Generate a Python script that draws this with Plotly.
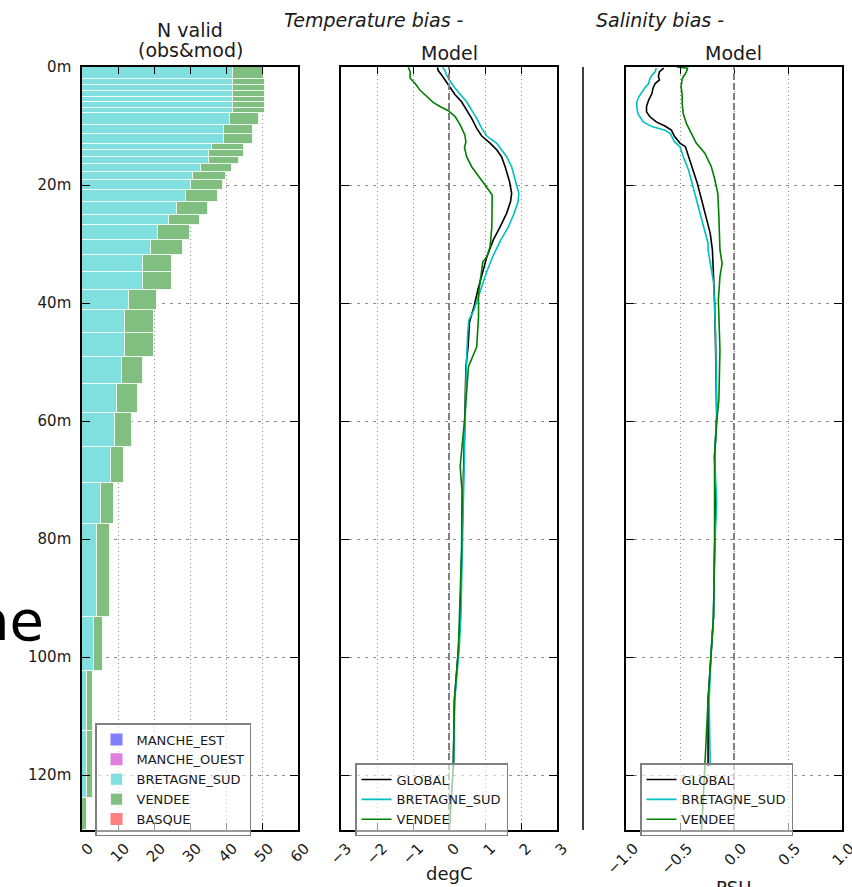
import plotly.graph_objects as go

W, H = 852, 887

# ---------------- data ----------------
depth_ticks = [0, 20, 40, 60, 80, 100, 120]
depth_labels = ["0m", "20m", "40m", "60m", "80m", "100m", "120m"]

n_ticks = [0, 10, 20, 30, 40, 50, 60]
n_labels = ["0", "10", "20", "30", "40", "50", "60"]
t_ticks = [-3, -2, -1, 0, 1, 2, 3]
t_labels = ["\u22123", "\u22122", "\u22121", "0", "1", "2", "3"]
s_ticks = [-1.0, -0.5, 0.0, 0.5, 1.0]
s_labels = ["\u22121.0", "\u22120.5", "0.0", "0.5", "1.0"]

regions = ["MANCHE_EST", "MANCHE_OUEST", "BRETAGNE_SUD", "VENDEE", "BASQUE"]

# depth bins of the N valid histogram (m)
bin_top = [0, 2, 3, 4, 5, 6, 7, 7.8, 9.8, 11.4, 13.0, 14.1, 15.2, 16.4, 17.8, 19.2,
           20.9, 22.9, 25.1, 26.8, 29.3, 31.9, 34.7, 37.8, 41.2, 45.1, 49.2, 53.7,
           58.6, 64.4, 70.5, 77.4, 93.2, 102.3, 112.5, 123.8]
bin_bot = [2, 3, 4, 5, 6, 7, 7.8, 9.8, 11.4, 13.0, 14.1, 15.2, 16.4, 17.8, 19.2, 20.9,
           22.9, 25.1, 26.8, 29.3, 31.9, 34.7, 37.8, 41.2, 45.1, 49.2, 53.7, 58.6,
           64.4, 70.5, 77.4, 93.2, 102.3, 112.5, 123.8, 129.3]
n_bretagne_sud = [41.9, 42, 42, 42, 42, 42, 42, 41.1, 39.4, 39.4, 36.0, 35.3, 35.3, 33.0,
                  30.8, 30.2, 28.9, 26.3, 24.2, 21.1, 19.1, 17.0, 17.0, 13.1, 12.0, 12.0,
                  11.1, 9.7, 9.2, 8.0, 5.2, 4.1, 3.2, 1.4, 1.4, 0.0]
n_vendee = [8.6, 8.8, 8.8, 8.8, 8.8, 8.8, 8.8, 8.2, 8.2, 8.2, 9.0, 9.7, 8.4, 8.6,
            9.2, 8.9, 8.9, 8.7, 8.6, 8.9, 8.9, 8.0, 8.0, 7.7, 8.0, 8.0,
            5.8, 5.9, 4.6, 3.8, 3.7, 3.7, 2.7, 1.6, 1.6, 1.3]

# temperature bias (degC) profiles
tg_depth = [0.05, 0.6, 1.4, 2.2, 3.6, 4.7, 5.9, 7.3, 8.7, 10.4, 11.7, 12.9, 14.0, 15.2, 16.9,
            19.4, 21.4, 22.8, 24.8, 27.1, 29.3, 32.2, 35.0, 37.8, 40.5, 43.2, 47.4, 50.8,
            59.3, 70.6, 81.9, 93.2, 98.8, 107.3, 118.5]
tg_val = [-0.32, -0.30, -0.20, -0.11, 0.03, 0.17, 0.35, 0.49, 0.63, 0.77, 0.91, 1.14, 1.32,
          1.46, 1.56, 1.68, 1.74, 1.71, 1.60, 1.42, 1.23, 1.05, 0.92, 0.80, 0.70, 0.57,
          0.53, 0.47, 0.44, 0.40, 0.35, 0.31, 0.26, 0.15, 0.12]

tb_depth = [0.05, 0.6, 1.2, 2.2, 3.6, 4.7, 5.9, 7.3, 8.7, 10.4, 11.7, 12.9, 14.0, 15.2, 16.9,
            19.4, 21.4, 22.8, 24.8, 27.1, 29.3, 32.2, 35.0, 37.8, 41.2, 42.9, 45.0, 50.8,
            59.3, 70.6, 81.9, 93.2, 98.8, 107.3, 118.5]
tb_val = [-0.18, -0.11, -0.08, 0.01, 0.17, 0.32, 0.49, 0.63, 0.77, 0.91, 1.05, 1.32, 1.46,
          1.60, 1.74, 1.86, 1.94, 1.92, 1.81, 1.65, 1.44, 1.21, 1.03, 0.88, 0.69, 0.55,
          0.52, 0.48, 0.45, 0.41, 0.37, 0.33, 0.28, 0.16, 0.13]

tv_depth = [0.05, 0.8, 1.9, 2.8, 3.9, 5.0, 6.0, 6.7, 7.4, 8.4, 9.8, 11.5, 12.7, 13.6, 15.2,
            16.9, 18.6, 20.0, 21.7, 22.5, 27.1, 30.5, 32.2, 33.0, 35.5, 38.4, 42.3, 47.4,
            50.8, 59.3, 67.7, 71.7, 81.9, 93.2, 98.8, 107.3, 118.5, 129.3]
tv_val = [-1.13, -1.08, -1.08, -0.94, -0.81, -0.62, -0.44, -0.25, -0.02, 0.17, 0.31, 0.44,
          0.47, 0.43, 0.49, 0.63, 0.82, 1.00, 1.20, 1.20, 1.19, 1.14, 1.05, 0.94, 0.88, 0.82,
          0.82, 0.77, 0.54, 0.44, 0.31, 0.36, 0.35, 0.30, 0.26, 0.15, 0.12, 0.01]

# salinity bias (PSU) profiles
sg_depth = [0.2, 0.8, 1.6, 2.2, 2.8, 3.6, 4.5, 5.6, 6.7, 7.6, 8.4, 9.3, 10.0, 10.7, 11.8,
            12.9, 13.5, 15.2, 17.5, 19.7, 22.5, 25.4, 28.2, 31.0, 39.5, 48.0, 59.2, 66.0,
            73.9, 81.9, 93.2, 98.8, 107.3, 118.5]
sg_val = [-0.65, -0.69, -0.70, -0.69, -0.73, -0.75, -0.76, -0.79, -0.81, -0.81, -0.78, -0.72,
          -0.64, -0.58, -0.55, -0.50, -0.45, -0.42, -0.38, -0.34, -0.30, -0.26, -0.22, -0.20,
          -0.18, -0.17, -0.16, -0.18, -0.17, -0.18, -0.19, -0.21, -0.24, -0.24]

sb_depth = [0.2, 0.8, 1.4, 2.0, 2.8, 3.4, 4.2, 5.0, 5.9, 6.7, 7.9, 9.3, 10.1, 10.7, 11.3,
            12.7, 13.5, 15.2, 17.5, 20.3, 23.7, 27.1, 29.9, 31.0, 36.4, 45.0, 59.2, 66.0,
            73.9, 81.9, 93.2, 98.8, 107.3, 118.5]
sb_val = [-0.72, -0.73, -0.76, -0.78, -0.79, -0.82, -0.85, -0.88, -0.90, -0.90, -0.89, -0.84,
          -0.76, -0.64, -0.59, -0.55, -0.50, -0.47, -0.42, -0.38, -0.33, -0.28, -0.24, -0.24,
          -0.19, -0.17, -0.16, -0.18, -0.16, -0.18, -0.19, -0.21, -0.23, -0.22]

sv_depth = [0.0, 0.2, 0.8, 2.0, 3.3, 4.8, 6.2, 7.9, 9.6, 11.2, 12.9, 14.6, 16.9, 18.9, 21.4,
            25.4, 31.0, 33.3, 35.5, 39.5, 48.0, 56.4, 60.1, 66.0, 73.4, 81.9, 93.2, 98.8,
            107.3, 118.5, 129.3]
sv_val = [-0.53, -0.43, -0.44, -0.48, -0.49, -0.48, -0.48, -0.47, -0.44, -0.40, -0.35, -0.27,
          -0.21, -0.18, -0.15, -0.14, -0.13, -0.11, -0.13, -0.145, -0.13, -0.14, -0.16, -0.18,
          -0.18, -0.18, -0.19, -0.21, -0.24, -0.27, -0.30]

# ---------------- styling ----------------
FONT = "DejaVu Sans"
C_BLUE = "#8080FF"
C_MAG = "#DF80DF"
C_CYAN = "#80DFDF"
C_GREEN = "#80BF80"
C_RED = "#FF8080"
L_BLACK = "#000000"
L_CYAN = "#00BFBF"
L_GREEN = "#008000"
GRIDC = "rgba(0,0,0,0.45)"


def px(x):
    return x / W


def py(y):
    return 1 - y / H


ydom = [py(830), py(67)]
centers = [(a + b) / 2 for a, b in zip(bin_top, bin_bot)]
heights = [b - a for a, b in zip(bin_top, bin_bot)]
vend_base = list(n_bretagne_sud)

fig = go.Figure()

edge = dict(color="rgba(255,255,255,0.75)", width=1)
# legend-only entries for regions without data
fig.add_trace(go.Bar(x=[None], y=[None], orientation="h", name=regions[0],
                     marker=dict(color=C_BLUE), xaxis="x", yaxis="y", legend="legend"))
fig.add_trace(go.Bar(x=[None], y=[None], orientation="h", name=regions[1],
                     marker=dict(color=C_MAG), xaxis="x", yaxis="y", legend="legend"))
fig.add_trace(go.Bar(x=n_bretagne_sud, y=centers, width=heights, orientation="h",
                     name=regions[2], marker=dict(color=C_CYAN, line=edge),
                     xaxis="x", yaxis="y", legend="legend"))
fig.add_trace(go.Bar(x=n_vendee, y=centers, width=heights, base=vend_base, orientation="h",
                     name=regions[3], marker=dict(color=C_GREEN, line=edge),
                     xaxis="x", yaxis="y", legend="legend"))
fig.add_trace(go.Bar(x=[None], y=[None], orientation="h", name=regions[4],
                     marker=dict(color=C_RED), xaxis="x", yaxis="y", legend="legend"))

# temperature
for xs, ys, nm, col in [(tg_val, tg_depth, "GLOBAL", L_BLACK),
                        (tb_val, tb_depth, "BRETAGNE_SUD", L_CYAN),
                        (tv_val, tv_depth, "VENDEE", L_GREEN)]:
    fig.add_trace(go.Scatter(x=xs, y=ys, mode="lines", name=nm,
                             line=dict(color=col, width=1.6),
                             xaxis="x2", yaxis="y2", legend="legend2"))
# salinity
for xs, ys, nm, col in [(sg_val, sg_depth, "GLOBAL", L_BLACK),
                        (sb_val, sb_depth, "BRETAGNE_SUD", L_CYAN),
                        (sv_val, sv_depth, "VENDEE", L_GREEN)]:
    fig.add_trace(go.Scatter(x=xs, y=ys, mode="lines", name=nm,
                             line=dict(color=col, width=1.6),
                             xaxis="x3", yaxis="y3", legend="legend3"))


def xax(dom, rng, tv, tt, anchor, shift):
    return dict(domain=dom, range=rng, tickvals=tv, ticktext=tt, anchor=anchor,
                tickangle=-45, ticks="inside", ticklen=7, tickcolor="black",
                mirror="allticks", showline=True, linecolor="black", linewidth=1.5,
                showgrid=True, gridcolor=GRIDC, gridwidth=1, griddash="1px,3px",
                zeroline=False, layer="above traces", ticklabelshift=shift,
                ticklabelstandoff=2, automargin=False, ticklabeloverflow="allow",
                tickfont=dict(family=FONT, size=15, color="#1a1a1a"), fixedrange=True)


def yax(anchor, labels):
    return dict(domain=ydom, range=[129.3, 0], tickvals=depth_ticks,
                ticktext=depth_labels, showticklabels=labels, anchor=anchor,
                ticks="inside", ticklen=8, tickcolor="black", mirror="allticks",
                showline=True, linecolor="black", linewidth=1.5,
                showgrid=True, gridcolor=GRIDC, gridwidth=1, griddash="3px,5px",
                zeroline=False, layer="above traces", ticklabelstandoff=6,
                automargin=False, ticklabeloverflow="allow",
                tickfont=dict(family=FONT, size=15, color="#1a1a1a"), fixedrange=True)


leg_common = dict(bgcolor="rgba(255,255,255,0.6)", bordercolor="#808080", borderwidth=1.5,
                  font=dict(family=FONT, size=13, color="#1a1a1a"),
                  xanchor="left", yanchor="top", tracegroupgap=0, itemwidth=30,
                  entrywidthmode="pixels")

fig.update_layout(
    template="none",
    width=W, height=H, autosize=False,
    margin=dict(l=0, r=0, t=0, b=0, pad=0, autoexpand=False),
    paper_bgcolor="white", plot_bgcolor="white",
    barmode="overlay", bargap=0,
    font=dict(family=FONT, color="#1a1a1a"),
    xaxis=xax([px(82), px(298)], [0, 60], n_ticks, n_labels, "y", 7),
    xaxis2=xax([px(341), px(557)], [-3, 3], t_ticks, t_labels, "y2", 6),
    xaxis3=xax([px(626), px(842)], [-1, 1], s_ticks, s_labels, "y3", 8),
    yaxis=yax("x", True),
    yaxis2=yax("x2", False),
    yaxis3=yax("x3", False),
    legend=dict(x=px(95), y=py(723), entrywidth=140, **leg_common),
    legend2=dict(x=px(355), y=py(763), entrywidth=135, **leg_common),
    legend3=dict(x=px(640), y=py(763), entrywidth=135, **leg_common),
)

# zero reference lines
for xr, yr in [("x2", "y2 domain"), ("x3", "y3 domain")]:
    fig.add_shape(type="line", xref=xr, yref=yr, x0=0, x1=0, y0=0, y1=1,
                  line=dict(color="#808080", width=2, dash="7px,3px"), layer="above")

# left edge of a neighbouring (cropped) panel
fig.add_shape(type="line", xref="paper", yref="paper", x0=px(583), x1=px(583),
              y0=py(830), y1=py(67), line=dict(color="black", width=1.5))


def ann(text, x, y, size, xanchor="center", yanchor="middle", color="#1a1a1a"):
    fig.add_annotation(text=text, x=px(x), y=py(y), xref="paper", yref="paper",
                       showarrow=False, xanchor=xanchor, yanchor=yanchor,
                       font=dict(family=FONT, size=size, color=color))


ann("N valid", 190, 30, 19)
ann("(obs&amp;mod)", 190, 50, 19)
ann("<i>Temperature bias -</i>", 374, 20, 19)
ann("Model", 449, 53, 19)
ann("<i>Salinity bias -</i>", 660, 20, 19)
ann("Model", 733, 53, 19)
ann("degC", 449, 873, 18)
ann("PSU", 733, 887, 18)
ann("Manche", 46, 620, 56, xanchor="right", color="black")

fig.write_html("out.html",
               config={"displayModeBar": False},
               post_script="document.body.style.margin='0';"
                           "document.body.style.overflow='hidden';")
